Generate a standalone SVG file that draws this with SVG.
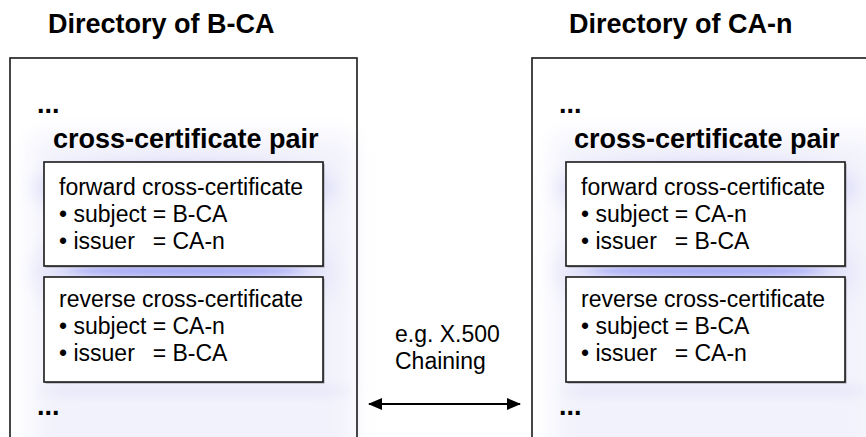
<svg xmlns="http://www.w3.org/2000/svg" width="866" height="437" viewBox="0 0 866 437">
  <style>
    text { font-family: "Liberation Sans", Arial, Helvetica, sans-serif; fill: #000; }
    .title { font-size: 27px; font-weight: bold; }
    .big { font-size: 27px; font-weight: bold; }
    .body { font-size: 23px; }
    .frame { fill: none; stroke: #1a1a1a; stroke-width: 1.6; }
    .cert { fill: #fff; stroke: #1a1a1a; stroke-width: 1.6; }
    .certShadow { fill: #9a9aa4; }
    .conn { stroke: #000; stroke-width: 2; fill: none; }
  </style>
  <defs>
    <filter id="softWide" x="-20%" y="-20%" width="140%" height="140%">
      <feGaussianBlur stdDeviation="12"/>
    </filter>
    <filter id="softMid" x="-30%" y="-60%" width="160%" height="220%">
      <feGaussianBlur stdDeviation="10"/>
    </filter>
    <filter id="softBand" x="-30%" y="-300%" width="160%" height="700%">
      <feGaussianBlur stdDeviation="12 3"/>
    </filter>
    <marker id="head" viewBox="0 0 14 12" refX="13" refY="6" markerWidth="14" markerHeight="12" markerUnits="userSpaceOnUse" orient="auto-start-reverse">
      <path d="M0,0 L14,6 L0,12 Z" fill="#000"/>
    </marker>
    <!-- soft lavender glow behind one directory panel, relative to its top-left corner -->
    <g id="glow">
      <rect x="22" y="78" width="322" height="345" fill="#f2f2fc" filter="url(#softWide)"/>
      <ellipse cx="175" cy="130" rx="150" ry="26" fill="#d6d6f8" filter="url(#softMid)"/>
      <ellipse cx="175" cy="214" rx="150" ry="60" fill="#e6e6fa" filter="url(#softMid)"/>
      <ellipse cx="175" cy="213" rx="120" ry="6" fill="#a8acf4" filter="url(#softBand)"/>
      <rect x="40" y="326" width="290" height="14" fill="#eaeafa" filter="url(#softBand)"/>
    </g>
  </defs>

  <!-- left directory -->
  <g id="dir-bca">
    <text class="title" x="48" y="33">Directory of B-CA</text>
    <g transform="translate(10,58)"><use href="#glow"/></g>
    <rect class="frame" x="10" y="58" width="347" height="390"/>
    <text class="big" x="37" y="113">...</text>
    <text class="big" x="53" y="147.5">cross-certificate pair</text>
    <g id="bca-forward">
      <rect class="certShadow" x="45.5" y="163.5" width="279" height="104"/>
      <rect class="cert" x="44" y="162" width="279" height="104"/>
      <text class="body" x="59" y="194.5">forward cross-certificate</text>
      <text class="body" x="59" y="221.5">• subject <tspan x="152.7">= B-CA</tspan></text>
      <text class="body" x="59" y="248.5">• issuer <tspan x="152.7">= CA-n</tspan></text>
    </g>
    <g id="bca-reverse">
      <rect class="certShadow" x="45.5" y="278.5" width="279" height="105"/>
      <rect class="cert" x="44" y="277" width="279" height="105"/>
      <text class="body" x="59" y="307">reverse cross-certificate</text>
      <text class="body" x="59" y="334">• subject <tspan x="152.7">= CA-n</tspan></text>
      <text class="body" x="59" y="361">• issuer <tspan x="152.7">= B-CA</tspan></text>
    </g>
    <text class="big" x="37" y="415">...</text>
  </g>

  <!-- right directory -->
  <g id="dir-can">
    <text class="title" x="569" y="33">Directory of CA-n</text>
    <g transform="translate(532,58)"><use href="#glow"/></g>
    <rect class="frame" x="532" y="58" width="347" height="390"/>
    <text class="big" x="559" y="113">...</text>
    <text class="big" x="574" y="147.5">cross-certificate pair</text>
    <g id="can-forward">
      <rect class="certShadow" x="567.5" y="163.5" width="279" height="104"/>
      <rect class="cert" x="566" y="162" width="279" height="104"/>
      <text class="body" x="581" y="194.5">forward cross-certificate</text>
      <text class="body" x="581" y="221.5">• subject <tspan x="674.7">= CA-n</tspan></text>
      <text class="body" x="581" y="248.5">• issuer <tspan x="674.7">= B-CA</tspan></text>
    </g>
    <g id="can-reverse">
      <rect class="certShadow" x="567.5" y="278.5" width="279" height="105"/>
      <rect class="cert" x="566" y="277" width="279" height="105"/>
      <text class="body" x="581" y="307">reverse cross-certificate</text>
      <text class="body" x="581" y="334">• subject <tspan x="674.7">= B-CA</tspan></text>
      <text class="body" x="581" y="361">• issuer <tspan x="674.7">= CA-n</tspan></text>
    </g>
    <text class="big" x="559" y="415">...</text>
  </g>

  <!-- chaining link between the two directories -->
  <g id="connectors">
    <line class="conn" x1="369" y1="404" x2="520" y2="404" marker-start="url(#head)" marker-end="url(#head)"/>
    <text class="body" x="395" y="341.5">e.g. X.500</text>
    <text class="body" x="395" y="368.5">Chaining</text>
  </g>
</svg>
